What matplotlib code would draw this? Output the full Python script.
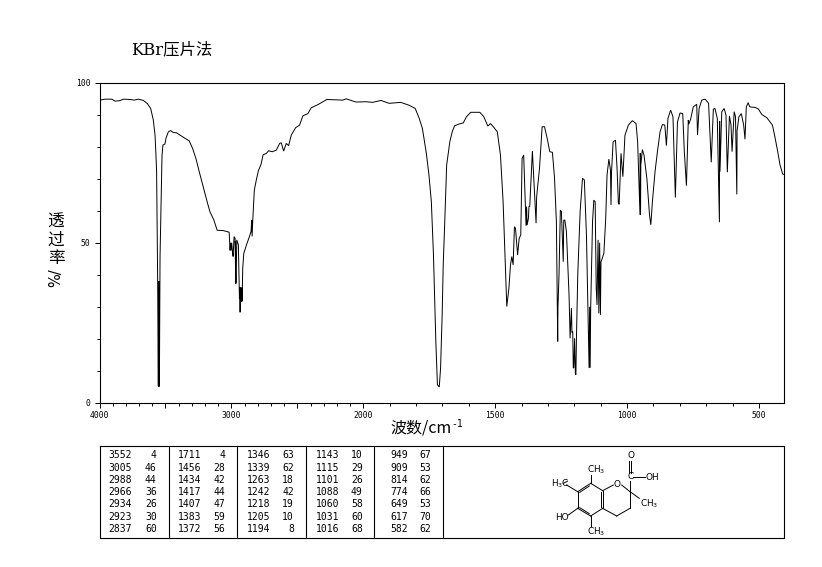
""" IR spectrum (KBr pellet) with peak table and structure """
import matplotlib
matplotlib.use('Agg')
import matplotlib.pyplot as plt
import numpy as np

# spectrum, wavenumber (cm-1) and transmittance (%)
wavenumber = [
    4000, 3957, 3907, 3882, 3849, 3819, 3768, 3735, 3705, 3667, 3637, 3612, 3592, 3579, 3572, 3567,
    3559, 3554, 3552, 3551, 3550, 3548, 3546, 3541, 3534, 3526, 3519, 3504, 3496, 3478, 3461, 3441,
    3415, 3390, 3352, 3320, 3294, 3269, 3244, 3214, 3184, 3163, 3133, 3108, 3063, 3017, 3010, 3006,
    3002, 2998, 2992, 2987, 2980, 2972, 2967, 2970, 2965, 2959, 2947, 2939, 2936, 2934, 2932, 2929,
    2925, 2921, 2919, 2914, 2906, 2886, 2866, 2851, 2846, 2843, 2838, 2833, 2826, 2811, 2795, 2775,
    2760, 2735, 2717, 2690, 2659, 2634, 2622, 2604, 2584, 2566, 2546, 2513, 2483, 2458, 2420, 2395,
    2344, 2276, 2155, 2130, 2055, 1990, 1965, 1933, 1902, 1858, 1826, 1803, 1788, 1776, 1761, 1751,
    1742, 1734, 1725, 1719, 1712, 1707, 1701, 1697, 1692, 1684, 1672, 1663, 1654, 1638, 1621, 1609,
    1593, 1558, 1543, 1528, 1518, 1505, 1492, 1480, 1470, 1462, 1456, 1448, 1442, 1437, 1432, 1427,
    1423, 1415, 1409, 1403, 1398, 1392, 1383, 1381, 1379, 1374, 1372, 1369, 1359, 1355, 1345, 1343,
    1341, 1332, 1322, 1313, 1303, 1293, 1283, 1275, 1268, 1263, 1262, 1258, 1253, 1249, 1242, 1240,
    1236, 1230, 1220, 1216, 1211, 1209, 1206, 1204, 1202, 1199, 1196, 1194, 1192, 1187, 1178, 1169,
    1162, 1154, 1144, 1142, 1140, 1138, 1131, 1126, 1121, 1117, 1114, 1110, 1107, 1104, 1101, 1099,
    1096, 1088, 1081, 1076, 1069, 1063, 1061, 1059, 1053, 1044, 1038, 1033, 1030, 1023, 1016, 1008,
    995, 980, 966, 960, 951, 950, 949, 948, 942, 936, 925, 915, 910, 904, 894, 885, 875, 866, 857,
    851, 845, 835, 826, 817, 809, 799, 789, 783, 775, 768, 766, 759, 749, 736, 733, 727, 717, 704,
    691, 684, 681, 673, 667, 658, 650, 649, 648, 641, 632, 625, 620, 612, 606, 602, 594, 589, 584,
    583, 576, 567, 558, 553, 548, 541, 535, 514, 502, 489, 470, 449, 441, 430, 420, 410, 404,
]
transmittance = [
    94.5, 94.8, 94.8, 94.2, 94.3, 94.8, 94.7, 94.5, 94.8, 94.4, 93.4, 91.9, 88.3, 83.6, 77.4, 72.2,
    37.9, 5.2, 38.0, 5.2, 38.0, 5.2, 5.2, 45.7, 60.7, 77.4, 80.5, 80.8, 82.6, 84.6, 85.0, 84.4,
    84.3, 83.6, 82.6, 81.8, 79.4, 76.3, 72.2, 67.5, 62.8, 59.7, 57.1, 53.9, 53.8, 53.3, 47.6, 50.0,
    47.6, 50.0, 47.2, 45.7, 51.9, 51.4, 37.1, 50.5, 37.5, 50.9, 49.3, 32.7, 36.0, 28.3, 36.0, 34.8,
    31.7, 36.0, 31.7, 42.1, 46.7, 49.3, 51.6, 53.5, 57.1, 52.0, 57.0, 60.7, 66.5, 69.6, 72.5, 74.5,
    77.4, 77.9, 78.7, 78.4, 78.9, 81.0, 81.2, 78.6, 81.0, 80.3, 83.6, 85.9, 86.7, 89.6, 90.3, 92.1,
    93.1, 94.7, 94.5, 94.9, 93.9, 94.0, 93.8, 94.4, 93.5, 93.8, 92.9, 91.9, 88.8, 85.7, 77.9, 71.1,
    62.8, 46.2, 19.2, 5.7, 5.0, 10.9, 27.5, 43.1, 54.5, 74.2, 81.5, 84.6, 86.5, 87.0, 87.4, 89.3,
    90.7, 90.7, 89.3, 86.4, 87.2, 86.0, 84.6, 77.4, 62.8, 44.1, 30.1, 35.8, 43.1, 45.7, 43.1, 55.0,
    54.5, 46.2, 51.4, 52.4, 76.3, 77.4, 55.3, 61.3, 55.5, 57.6, 61.3, 61.3, 78.6, 72.2, 56.1, 64.0,
    65.9, 73.2, 86.2, 86.2, 82.6, 78.4, 78.2, 70.1, 56.6, 19.2, 30.0, 40.0, 60.2, 59.7, 44.1, 57.0,
    57.1, 53.5, 33.7, 20.2, 29.6, 22.0, 22.3, 11.0, 10.9, 20.2, 9.0, 8.8, 20.0, 40.0, 59.7, 70.1,
    69.6, 52.4, 10.9, 30.0, 11.0, 29.6, 56.6, 63.3, 62.8, 35.8, 30.6, 50.9, 28.0, 50.0, 27.5, 44.0,
    44.7, 46.7, 57.6, 71.1, 76.1, 72.7, 61.8, 72.0, 81.5, 82.0, 73.2, 62.3, 62.0, 77.9, 70.6, 83.6,
    86.7, 88.1, 87.2, 81.5, 58.7, 78.0, 58.7, 74.2, 79.1, 77.4, 70.1, 58.7, 55.6, 62.8, 72.2, 78.4, 84.6, 86.9, 86.7,
    80.3, 88.8, 91.4, 89.3, 64.1, 87.7, 90.5, 90.3, 78.4, 67.8, 88.3, 87.0, 88.6, 92.4, 93.2, 83.6, 91.9, 94.5, 94.8,
    93.5, 80.5, 75.1, 91.7, 91.9, 88.8, 56.4, 88.0, 72.2, 90.9, 91.9, 89.8, 72.0, 89.6, 86.7, 78.4, 90.9, 89.3, 65.1,
    85.0, 89.3, 90.3, 86.7, 82.3, 92.4, 93.7, 92.4, 92.2, 91.7, 90.0, 89.0, 86.7, 83.6, 78.9, 74.2, 71.4, 71.3,
]

x_labelled = [4000, 3000, 2000, 1500, 1000, 500]
x_long = [3500, 2500]
y_labelled = [0, 50, 100]

# peak table, one list per column block
peak_wn_1 = [3552, 3005, 2988, 2966, 2934, 2923, 2837]
peak_t_1 = [4, 46, 44, 36, 26, 30, 60]
peak_wn_2 = [1711, 1456, 1434, 1417, 1407, 1383, 1372]
peak_t_2 = [4, 28, 42, 44, 47, 59, 56]
peak_wn_3 = [1346, 1339, 1263, 1242, 1218, 1205, 1194]
peak_t_3 = [63, 62, 18, 42, 19, 10, 8]
peak_wn_4 = [1143, 1115, 1101, 1088, 1060, 1031, 1016]
peak_t_4 = [10, 29, 26, 49, 58, 60, 68]
peak_wn_5 = [949, 909, 814, 774, 649, 617, 582]
peak_t_5 = [67, 53, 62, 66, 53, 70, 62]

W, H = 822, 567
FAMILY = ['DejaVu Sans', 'Noto Sans CJK SC']
CJK = ['Noto Sans CJK SC', 'DejaVu Sans']
MONO = 'DejaVu Sans Mono'


def forward(w):
    # the chart doubles its scale below 2000 cm-1
    w = np.asarray(w, dtype=float)
    return np.where(w < 2000, w, 2000 + (w - 2000) / 2)


def inverse(v):
    v = np.asarray(v, dtype=float)
    return np.where(v < 2000, v, 2000 + (v - 2000) * 2)


fig = plt.figure(figsize=(W / 100, H / 100), dpi=100, facecolor='white')

left, right, top, bottom = 99.5, 784.3, 82.5, 403
ax = fig.add_axes([left / W, 1 - bottom / H, (right - left) / W, (bottom - top) / H])
ax.set_xscale('function', functions=(forward, inverse))
ax.plot(wavenumber, transmittance, color='black', lw=0.7, solid_joinstyle='miter')
ax.set_xlim(4000, 404)
ax.set_ylim(0, 100)

ax.set_xticks(x_labelled + x_long)
ax.set_xticklabels([str(v) for v in x_labelled] + [''] * len(x_long), family=MONO, fontsize=5.8)
ax.set_xticks(np.arange(500, 4000, 100), minor=True)
ax.set_yticks(y_labelled)
ax.set_yticklabels([str(v) for v in y_labelled], family=MONO, fontsize=5.8)
ax.set_yticks(np.arange(10, 100, 10), minor=True)
ax.tick_params(which='major', length=3.6, width=0.7, pad=2)
ax.tick_params(axis='y', which='major', pad=3)
ax.tick_params(which='minor', length=2, width=0.7)
for spine in ax.spines.values():
    spine.set_linewidth(0.8)

# overlay in picture pixels for the captions, table and structure
ov = fig.add_axes([0, 0, 1, 1], facecolor='none')
ov.set_xlim(0, W)
ov.set_ylim(H, 0)
ov.axis('off')

ov.text(131, 50, 'KBr压片法', family=['DejaVu Serif', 'Noto Sans CJK SC'], fontsize=11.8, va='center', ha='left')
for ch, y in zip('透过率', [222, 240, 258]):
    ov.text(56, y, ch, family=CJK, fontsize=12, ha='center', va='center')
ov.text(56, 278, '%/', family=FAMILY, fontsize=10.5, rotation=90, ha='center', va='center')
ov.text(390, 428, '波数/cm', family=CJK, fontsize=11.5, ha='left', va='center')
ov.text(451, 424, '-1', family=MONO, fontsize=7, ha='left', va='center')

# table frame
tb_left, tb_right, tb_top, tb_bottom = 99.5, 784.3, 446, 538
ov.plot([tb_left, tb_right, tb_right, tb_left, tb_left],
        [tb_top, tb_top, tb_bottom, tb_bottom, tb_top], color='black', lw=0.8)
for x in [168.5, 236.5, 305.5, 373.5, 442.5]:
    ov.plot([x, x], [tb_top, tb_bottom], color='black', lw=0.8)

row_y = [455.3, 467.7, 480.3, 492.3, 504.3, 517, 529.3]
blocks = [
    (peak_wn_1, peak_t_1, 132, 156.7),
    (peak_wn_2, peak_t_2, 201, 225),
    (peak_wn_3, peak_t_3, 270, 294),
    (peak_wn_4, peak_t_4, 339, 362.7),
    (peak_wn_5, peak_t_5, 408, 430.7),
]
for wns, ts, x_wn, x_t in blocks:
    for w, t, y in zip(wns, ts, row_y):
        ov.text(x_wn, y, str(w), family=MONO, fontsize=7, ha='right', va='center')
        ov.text(x_t, y, str(t), family=MONO, fontsize=7, ha='right', va='center')

# structure, in units of the zoomed crop
bonds = [
    (218, 152, 182, 130), (182, 130, 143, 155), (143, 155, 143, 205), (143, 205, 182, 228),
    (182, 228, 218, 205), (218, 205, 218, 152), (178, 138, 149, 157), (149, 203, 178, 221),
    (213, 200, 213, 157), (218, 152, 250, 135), (275, 135, 300, 155), (300, 155, 300, 205),
    (300, 205, 260, 228), (260, 228, 218, 205), (300, 155, 300, 122), (297, 62, 297, 98),
    (304, 62, 304, 98), (310, 112, 345, 112), (300, 155, 328, 175), (182, 130, 182, 105),
    (143, 155, 110, 135), (100, 130, 112, 124), (143, 205, 115, 225), (182, 228, 182, 258),
]
for x0, y0, x1, y1 in bonds:
    ov.plot([530 + x0 / 3, 530 + x1 / 3], [440 + y0 / 3, 440 + y1 / 3], color='black', lw=0.7)

atoms = [
    (302, 48, 'O'), (301, 110, 'C'), (368, 112, 'OH'), (262, 134, 'O'), (358, 192, 'CH$_3$'),
    (200, 88, 'CH$_3$'), (90, 130, 'H$_3$C'), (97, 233, 'HO'), (198, 275, 'CH$_3$'),
]
for zx, zy, label in atoms:
    ov.text(530 + zx / 3, 440 + zy / 3, label, family='DejaVu Sans', fontsize=6.4, ha='center', va='center')

fig.savefig('out.png', dpi=100, facecolor='white')
